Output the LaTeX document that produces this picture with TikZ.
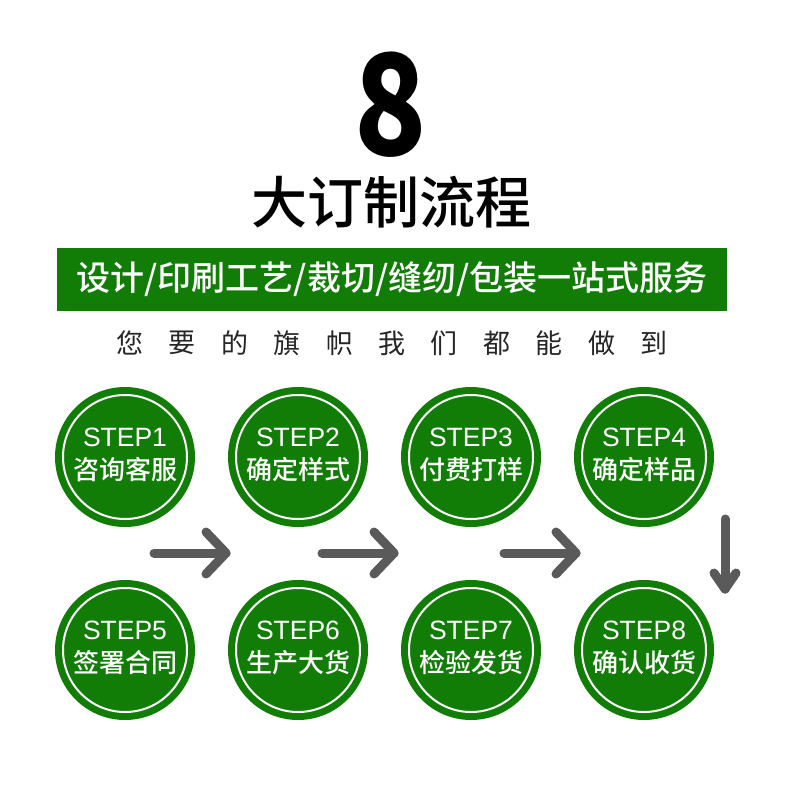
\documentclass[tikz,border=0pt]{standalone}
\usepackage{fontspec}
\setmainfont{Liberation Sans}
\newfontfamily\cjk{Noto Sans CJK SC}
\newfontfamily\cjkmed{Noto Sans CJK SC Medium}
\usepackage{tikz}
\usepackage{xcolor}

\definecolor{stepgreen}{RGB}{18,125,6}
\definecolor{arrowgray}{RGB}{90,90,90}

\begin{document}
\begin{tikzpicture}[x=1pt,y=-1pt,
  stepcircle/.style={circle,fill=stepgreen,minimum size=140pt,inner sep=0pt,
    path picture={\draw[white,line width=2pt] (path picture bounding box.center) circle (62pt);}},
  steplabel/.style={text=white,inner sep=0pt,font=\fontsize{26.5}{26.5}\selectfont},
  stepname/.style={text=white,inner sep=0pt,font=\cjkmed\fontsize{26}{26}\selectfont},
  arrowline/.style={draw=arrowgray,line width=9pt,line cap=round,line join=round}]
\useasboundingbox[fill=white] (0,0) rectangle (800,800);

% heading
\node[inner sep=0pt] (num) at (391,105) {\scalebox{0.85}[1]{\cjk\bfseries\fontsize{140}{140}\selectfont 8}};
\node[inner sep=0pt] (title) at (391,202) {\cjkmed\fontsize{56}{56}\selectfont 大订制流程};

% banner
\node[fill=stepgreen,minimum width=670pt,minimum height=63pt,inner sep=0pt] (banner) at (392,279.5) {};
\node[text=white,inner sep=0pt,font=\cjkmed\fontsize{34}{34}\selectfont] (service) at (banner) {设计/印刷工艺/裁切/缝纫/包装一站式服务};

% spaced subtitle
\foreach \c [count=\i] in {您,要,的,旗,帜,我,们,都,能,做,到}
  \node[inner sep=0pt,text=black!85,font=\cjk\fontsize{27}{27}\selectfont] (sub\i) at ({392+(\i-6)*52.4},343) {\c};

% steps
\foreach \n/\cx/\cy/\t in {1/125/457/咨询客服,2/298/457/确定样式,3/471/457/付费打样,4/644/457/确定样品,
                          5/125/650/签署合同,6/298/650/生产大货,7/471/650/检验发货,8/644/650/确认收货} {
  \node[stepcircle] (step\n) at (\cx,\cy) {};
  \node[steplabel] (label\n) at ([yshift=20pt]step\n.center) {STEP\n};
  \node[stepname] (name\n) at ([yshift=-13pt]step\n.center) {\t};
}

% arrows
\foreach \k/\xs/\xe in {1/154/226,2/322/394,3/504/576} {
  \coordinate (go\k) at (\xs,553);
  \coordinate (to\k) at (\xe,553);
  \draw[arrowline] (go\k) -- (to\k);
  \draw[arrowline] (to\k) ++(-20,-21) -- (to\k) -- ++(-20,21);
}
\coordinate (down1) at (725,519);
\coordinate (down2) at (725,589);
\draw[arrowline] (down1) -- (down2);
\draw[arrowline] (down2) ++(-11,-16) -- (down2) -- ++(11,-16);
\end{tikzpicture}
\end{document}
